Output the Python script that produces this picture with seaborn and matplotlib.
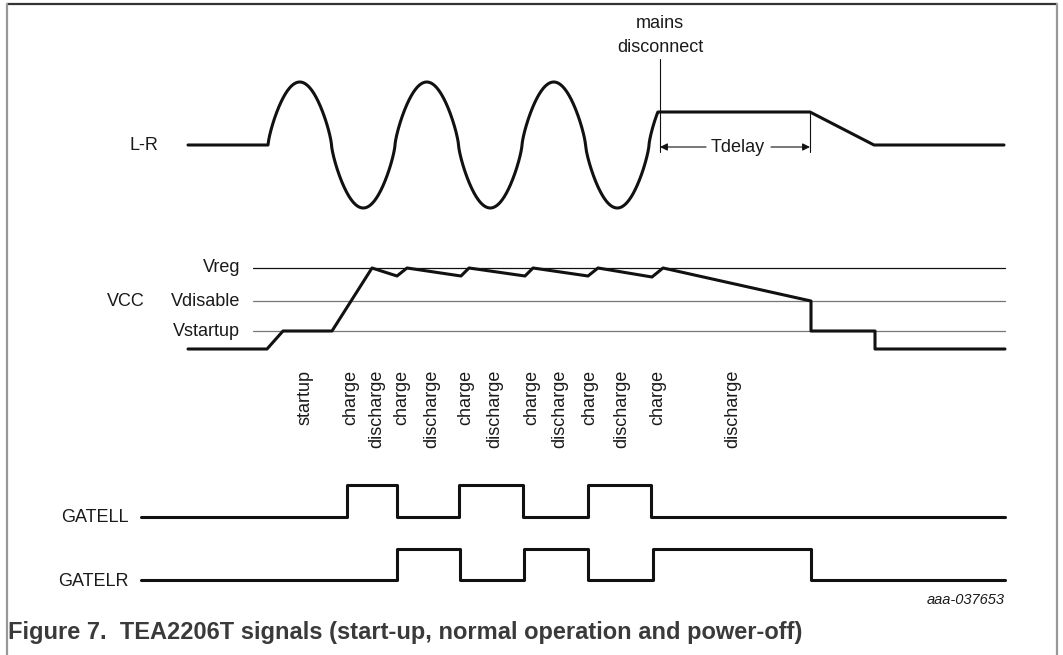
import numpy as np
import pandas as pd
import matplotlib
matplotlib.use("Agg")
import matplotlib.pyplot as plt
import seaborn as sns

# ---------------- data (time axis in diagram units, levels in diagram units) -------------
# L-R mains voltage
lr_flat_t = [188, 268]
lr_flat_v = [145, 145]
sine_start = 268
sine_period = 127
sine_amp = 63
sine_mid = 145
sine_end = 660
lr_hold_t = [660, 810, 874, 1004]
lr_hold_v = [112, 112, 145, 145]

# VCC
vcc_t = [188, 267, 283, 332, 372, 397, 407, 461, 469, 525, 533, 588, 598, 652, 663, 811, 811, 875, 875, 1005]
vcc_v = [349, 349, 331, 331, 268, 276, 268, 276, 268, 276, 268, 276, 268, 277, 268, 301, 331, 331, 349, 349]
vcc_ref_names = ["Vreg", "Vdisable", "Vstartup"]
vcc_ref_levels = [268, 301, 331]

# phase labels
phase_labels = ["startup", "charge", "discharge", "charge", "discharge", "charge", "discharge",
                "charge", "discharge", "charge", "discharge", "charge", "discharge"]
phase_t = [305, 351, 377, 402, 432, 466, 495, 532, 560, 590, 622, 658, 733]

# Gate drive signals (edge times, state after edge)
gatell_t = [141, 347, 397, 459, 523, 588, 651, 1005]
gatell_s = [0, 1, 0, 1, 0, 1, 0, 0]
gatelr_t = [141, 397, 460, 524, 588, 653, 811, 1005]
gatelr_s = [0, 1, 0, 1, 0, 1, 0, 0]
gatell_low, gatell_high = 517, 485
gatelr_low, gatelr_high = 580, 549

mains_disconnect_t = 660
tdelay_end_t = 810

# ---------------- figure ----------------
sns.set_theme(style="white")
plt.rcParams["font.family"] = ["Liberation Sans", "DejaVu Sans"]

W, H = 1063, 655
fig = plt.figure(figsize=(W / 100, H / 100), dpi=100)
ax = fig.add_axes([0, 0, 1, 1])
ax.set_xlim(0, W)
ax.set_ylim(H, 0)
ax.axis("off")

LW = 2.2
black = "#111111"
txt = "#1a1a1a"
fs = 13

# L-R trace: rounded mains sine lobes, clamped to the hold level after the last trough
sine_t = np.linspace(sine_start, sine_end, 1200)
s = np.sin(2 * np.pi * (sine_t - sine_start) / sine_period)
sine_v = sine_mid - sine_amp * np.sign(s) * np.abs(s) ** 0.75
tail = sine_t > sine_start + 2.9 * sine_period
sine_v = np.where(tail, np.maximum(sine_v, lr_hold_v[0]), sine_v)
lr_t = np.concatenate([lr_flat_t, sine_t, lr_hold_t])
lr_v = np.concatenate([lr_flat_v, sine_v, lr_hold_v])
df_lr = pd.DataFrame({"t": lr_t, "v": lr_v})
sns.lineplot(data=df_lr, x="t", y="v", sort=False, estimator=None, color=black, lw=LW, ax=ax)

# VCC reference lines
for name, lvl, c in zip(vcc_ref_names, vcc_ref_levels, ["#111111", "#777777", "#777777"]):
    ax.plot([253, 1005], [lvl, lvl], color=c, lw=0.9, zorder=1)
    ax.text(240, lvl, name, ha="right", va="center", fontsize=fs, color=txt)

df_vcc = pd.DataFrame({"t": vcc_t, "v": vcc_v})
sns.lineplot(data=df_vcc, x="t", y="v", sort=False, estimator=None, color=black, lw=LW, ax=ax)

# gate traces
df_ll = pd.DataFrame({"t": gatell_t,
                      "v": [gatell_high if s_ else gatell_low for s_ in gatell_s]})
df_lr2 = pd.DataFrame({"t": gatelr_t,
                       "v": [gatelr_high if s_ else gatelr_low for s_ in gatelr_s]})
sns.lineplot(data=df_ll, x="t", y="v", sort=False, estimator=None, color=black, lw=LW,
             drawstyle="steps-post", ax=ax)
sns.lineplot(data=df_lr2, x="t", y="v", sort=False, estimator=None, color=black, lw=LW,
             drawstyle="steps-post", ax=ax)

# channel labels
ax.text(158, 145, "L-R", ha="right", va="center", fontsize=fs, color=txt)
ax.text(145, 301, "VCC", ha="right", va="center", fontsize=fs, color=txt)
ax.text(129, 518, "GATELL", ha="right", va="center", fontsize=fs, color=txt)
ax.text(129, 581, "GATELR", ha="right", va="center", fontsize=fs, color=txt)

# phase labels
for lab, t in zip(phase_labels, phase_t):
    ax.text(t, 370, lab, rotation=90, ha="center", va="top", fontsize=fs, color=txt)

# mains disconnect marker
ax.plot([mains_disconnect_t, mains_disconnect_t], [59, 152], color=black, lw=0.8)
ax.text(mains_disconnect_t, 24, "mains", ha="center", va="center", fontsize=fs, color=txt)
ax.text(mains_disconnect_t, 47, "disconnect", ha="center", va="center", fontsize=fs, color=txt)
ax.plot([tdelay_end_t, tdelay_end_t], [112, 152], color=black, lw=0.8)
ax.text(738, 148, "Tdelay", ha="center", va="center", fontsize=fs, color=txt)
arrow = dict(arrowstyle="-|>", lw=0.8, color=black, mutation_scale=11, shrinkA=0, shrinkB=0)
ax.annotate("", xy=(mains_disconnect_t, 147), xytext=(706, 147), arrowprops=arrow)
ax.annotate("", xy=(tdelay_end_t, 147), xytext=(771, 147), arrowprops=arrow)

# figure id
ax.text(1005, 600, "aaa-037653", ha="right", va="center", fontsize=10.5, style="italic", color=txt)

# frame
ax.plot([7, 1057], [4, 4], color="#333333", lw=1.6, solid_capstyle="butt")
ax.plot([7, 7], [4, H], color="#999999", lw=1.6)
ax.plot([1057, 1057], [4, H], color="#999999", lw=1.6)

# caption
ax.text(8, 632, "Figure 7.  TEA2206T signals (start-up, normal operation and power-off)",
        ha="left", va="center", fontsize=17, fontweight="bold", color="#3a3a3a")

fig.savefig("out.png", dpi=100)
